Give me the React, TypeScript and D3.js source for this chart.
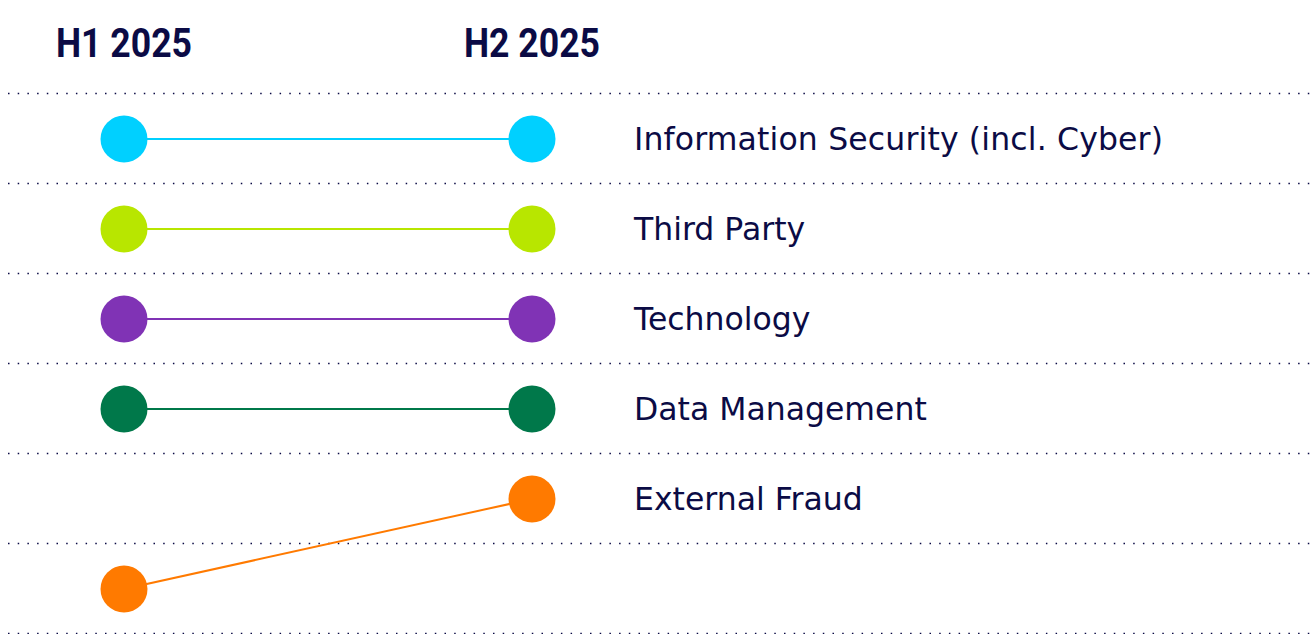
import React from "react";
import * as d3 from "d3";

const periods = ["H1 2025", "H2 2025"];
const categories = [
  "Information Security (incl. Cyber)",
  "Third Party",
  "Technology",
  "Data Management",
  "External Fraud",
];
const rankH1 = [1, 2, 3, 4, 6];
const rankH2 = [1, 2, 3, 4, 5];
const colors = ["#00d0ff", "#b8e600", "#8033b5", "#00784a", "#ff7a00"];
const rankSlots = [1, 2, 3, 4, 5, 6];

const W = 1315;
const H = 634;
const NAVY = "#0b0b45";

export default function App() {
  const x = d3.scalePoint<string>().domain(periods).range([124, 532]);
  const y = d3.scaleLinear().domain([1, 6]).range([139, 589]);
  const gridRanks = [...rankSlots.map((r) => r - 0.5), 6.5];

  return (
    <svg
      width={W}
      height={H}
      style={{ position: "absolute", left: 0, top: 0, background: "#fff" }}
    >
      {periods.map((p) => (
        <text
          key={p}
          x={x(p)}
          y={57}
          textAnchor="middle"
          fontFamily="Roboto, 'DejaVu Sans', sans-serif"
          fontWeight={700}
          fontSize={40}
          fill={NAVY}
          textLength={136}
          lengthAdjust="spacingAndGlyphs"
        >
          {p}
        </text>
      ))}
      {gridRanks.map((r) => (
        <line
          key={r}
          x1={8}
          x2={W}
          y1={Math.round(y(r)) - 0.5}
          y2={Math.round(y(r)) - 0.5}
          stroke={NAVY}
          strokeWidth={1.5}
          strokeDasharray="1.5 8.2"
        />
      ))}
      {categories.map((c, i) => (
        <g key={c}>
          <line
            x1={x(periods[0])}
            y1={y(rankH1[i])}
            x2={x(periods[1])}
            y2={y(rankH2[i])}
            stroke={colors[i]}
            strokeWidth={2}
          />
          <circle cx={x(periods[0])} cy={y(rankH1[i])} r={23.5} fill={colors[i]} />
          <circle cx={x(periods[1])} cy={y(rankH2[i])} r={23.5} fill={colors[i]} />
          <text
            x={634}
            y={y(rankH2[i])}
            dy="0.35em"
            fontFamily="'DejaVu Sans', sans-serif"
            fontSize={31.5}
            fill={NAVY}
            textLength={i === 0 ? 529 : undefined}
          >
            {c}
          </text>
        </g>
      ))}
    </svg>
  );
}
